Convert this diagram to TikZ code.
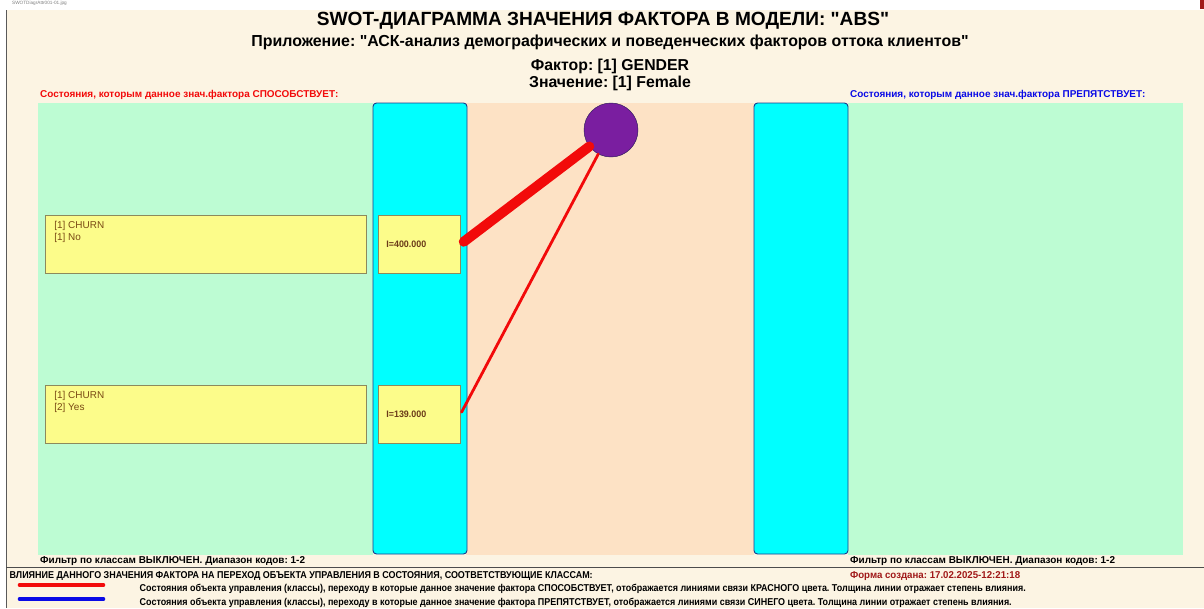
\documentclass[tikz,border=0pt]{standalone}
\usepackage{fontspec}
\setmainfont{Liberation Sans}[Ligatures=TeXOff]
\usepackage{xcolor}
\usepackage{tikz}
\frenchspacing

\definecolor{cream}{HTML}{FCF4E3}
\definecolor{mint}{HTML}{BDFCD3}
\definecolor{aqua}{HTML}{00FFFF}
\definecolor{peach}{HTML}{FDE2C5}
\definecolor{paleyel}{HTML}{FCFC8A}
\definecolor{yelline}{HTML}{8C8A5C}
\definecolor{clstext}{HTML}{7A4A14}
\definecolor{inftext}{HTML}{6A3A18}
\definecolor{plum}{HTML}{7A1EA0}
\definecolor{plumline}{HTML}{2C1A5C}
\definecolor{colline}{HTML}{1A3C8C}
\definecolor{sred}{HTML}{F20A0A}
\definecolor{sblue}{HTML}{0A0AE6}
\definecolor{dred}{HTML}{A01818}

\begin{document}
\begin{tikzpicture}[x=0.03cm,y=-0.03cm,
  cls/.style={draw=yelline,fill=paleyel,anchor=north west,inner sep=0pt,
              minimum width=321*0.03cm,minimum height=58*0.03cm},
  inf/.style={draw=yelline,fill=paleyel,anchor=north west,inner sep=0pt,
              minimum width=82*0.03cm,minimum height=58*0.03cm},
  clstxt/.style={anchor=north west,align=left,font=\fontsize{8.5}{9.8}\selectfont,text=clstext},
  inftxt/.style={anchor=west,font=\fontsize{8}{9}\selectfont\bfseries,text=inftext,xscale=0.95},
  col/.style={draw=colline,fill=aqua,rounded corners=3pt,thick},
  hd/.style={font=\fontsize{8.5}{10}\selectfont\bfseries,anchor=west},
  filt/.style={font=\fontsize{8.5}{10}\selectfont\bfseries,anchor=west},
  leg/.style={font=\fontsize{8.5}{9}\selectfont\bfseries,anchor=west,xscale=0.9},
  lnk/.style={sred,line cap=round,shorten <=2pt}
]
\useasboundingbox (0,0) rectangle (1204,608);
\fill[white] (0,0) rectangle (1204,608);
\fill[cream] (6,10) rectangle (1204,608);
\draw[gray!70!black] (6,10) -- (6,608);
\fill[dred] (1200,0) rectangle (1204,9);
\node[anchor=west,font=\fontsize{4}{5}\selectfont,text=gray] (fname) at (8,3) {SWOTDiagrAttr001-01.jpg};

% titles
\node[font=\fontsize{16.3}{18}\selectfont\bfseries] (title) at (603,21) {SWOT-ДИАГРАММА ЗНАЧЕНИЯ ФАКТОРА В МОДЕЛИ: "ABS"};
\node[font=\fontsize{13.6}{15}\selectfont\bfseries] (subtitle) at (610,42) {Приложение: "АСК-анализ демографических и поведенческих факторов оттока клиентов"};
\node[font=\fontsize{13.5}{14}\selectfont\bfseries,align=center] (factor) at (610,75) {Фактор: [1] GENDER\\Значение: [1] Female};
\node[hd,text=sred] (lhead) at (36,95) {Состояния, которым данное знач.фактора СПОСОБСТВУЕТ:};
\node[hd,text=sblue] (rhead) at (846,95) {Состояния, которым данное знач.фактора ПРЕПЯТСТВУЕТ:};

% panels
\fill[mint] (38,103) rectangle (373,555);
\fill[peach] (466,103) rectangle (754,555);
\fill[mint] (848,103) rectangle (1183,555);
\draw[col] (373,103) rectangle (467,554);
\draw[col] (754,103) rectangle (848,554);

% classes
\node[cls] (cls1) at (45,215) {};
\node[clstxt] at (cls1.north west) [xshift=4.5pt,yshift=-2pt] {[1] CHURN\\{}[1] No};
\node[cls] (cls2) at (45,385) {};
\node[clstxt] at (cls2.north west) [xshift=4.5pt,yshift=-2pt] {[1] CHURN\\{}[2] Yes};
\node[inf] (inf1) at (378,215) {};
\node[inftxt] at (inf1.west) [xshift=4pt] {I=400.000};
\node[inf] (inf2) at (378,385) {};
\node[inftxt] at (inf2.west) [xshift=4pt] {I=139.000};

% factor value
\node[circle,draw=plumline,fill=plum,minimum size=54*0.03cm,inner sep=0pt] (val) at (611,130) {};
\draw[lnk,line width=8.5pt,shorten <=3.5pt] (inf1.east) -- (val);
\draw[lnk,line width=2.4pt] (inf2.east) -- (val);

% footer
\node[filt] (lfilt) at (36,561) {Фильтр по классам ВЫКЛЮЧЕН. Диапазон кодов: 1-2};
\node[filt] (rfilt) at (846,561) {Фильтр по классам ВЫКЛЮЧЕН. Диапазон кодов: 1-2};
\draw[gray!60!black] (6,567.5) -- (1204,567.5);
\node[leg] (legtitle) at (6,576) {ВЛИЯНИЕ ДАННОГО ЗНАЧЕНИЯ ФАКТОРА НА ПЕРЕХОД ОБЪЕКТА УПРАВЛЕНИЯ В СОСТОЯНИЯ, СООТВЕТСТВУЮЩИЕ КЛАССАМ:};
\node[leg,text=dred,xscale=1.08] (created) at (846,576) {Форма создана: 17.02.2025-12:21:18};
\node[leg] (legred) at (136,589) {Состояния объекта управления (классы), переходу в которые данное значение фактора СПОСОБСТВУЕТ, отображается линиями связи КРАСНОГО цвета. Толщина линии отражает степень влияния.};
\node[leg] (legblue) at (136,603) {Состояния объекта управления (классы), переходу в которые данное значение фактора ПРЕПЯТСТВУЕТ, отображается линиями связи СИНЕГО цвета. Толщина линии отражает степень влияния.};
\coordinate (r1) at (20,585);
\coordinate (r2) at (103,585);
\coordinate (b1) at (20,599);
\coordinate (b2) at (103,599);
\draw[sred,line width=4pt,line cap=round] (r1) -- (r2);
\draw[sblue,line width=4pt,line cap=round] (b1) -- (b2);
\end{tikzpicture}
\end{document}
